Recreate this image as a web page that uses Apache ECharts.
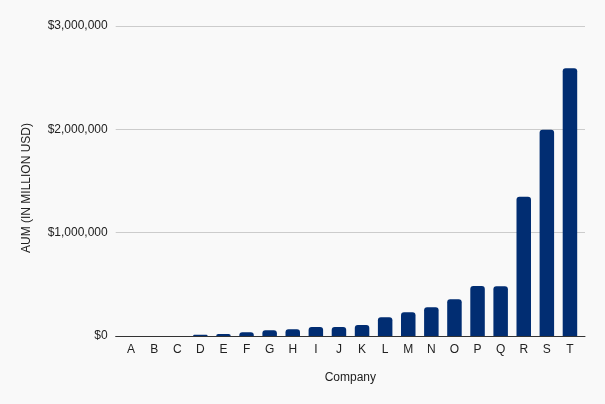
<!DOCTYPE html>
<html>
<head>
<meta charset="utf-8">
<script src="https://cdn.jsdelivr.net/npm/echarts@6/dist/echarts.min.js"></script>
<style>
html,body{margin:0;padding:0;background:#f9f9f9;}
#c{width:605px;height:404px;}
</style>
</head>
<body>
<div id="c"></div>
<script>
var categories = ['A','B','C','D','E','F','G','H','I','J','K','L','M','N','O','P','Q','R','S','T'];
var aum = [500, 800, 1200, 12000, 20000, 37000, 56000, 66000, 86000, 86000, 106000, 181000, 229000, 278000, 356000, 484000, 482000, 1348000, 1995000, 2590000];
var yTicks = [0, 1000000, 2000000, 3000000];

function fmt(v){ return '$' + v.toString().replace(/\B(?=(\d{3})+(?!\d))/g, ','); }

var chart = echarts.init(document.getElementById('c'));
var font = 'Liberation Sans, Arial, sans-serif';
chart.setOption({
  backgroundColor: '#f9f9f9',
  animation: false,
  grid: [
    {left: 115.7, top: 26, width: 469.3, height: 310},
    {left: 119.5, top: 26, width: 462, height: 310}
  ],
  xAxis: [
    {gridIndex: 0, type: 'category', data: categories,
     axisLine: {show: true, lineStyle: {color: '#333', width: 1}},
     axisTick: {show: false}, axisLabel: {show: false}, splitLine: {show: false},
     name: 'Company', nameLocation: 'middle', nameGap: 36,
     nameTextStyle: {color: '#222', fontSize: 12, fontFamily: font}},
    {gridIndex: 1, type: 'category', data: categories,
     axisLine: {show: false}, axisTick: {show: false},
     axisLabel: {color: '#222', fontSize: 12, fontFamily: font, margin: 8}}
  ],
  yAxis: [
    {gridIndex: 0, type: 'value', min: yTicks[0], max: yTicks[yTicks.length-1], interval: 1000000,
     axisLine: {show: false}, axisTick: {show: false},
     axisLabel: {color: '#222', fontSize: 12, fontFamily: font, margin: 8, formatter: fmt},
     splitLine: {lineStyle: {color: '#cccccc', width: 1}},
     name: 'AUM (IN MILLION USD)', nameLocation: 'middle', nameGap: 83,
     nameTextStyle: {color: '#222', fontSize: 12, fontFamily: font, padding: [0, 14, 0, 0]}},
    {gridIndex: 1, type: 'value', min: yTicks[0], max: yTicks[yTicks.length-1], show: false}
  ],
  series: [{
    type: 'bar', xAxisIndex: 1, yAxisIndex: 1, data: aum,
    barWidth: 14.5,
    itemStyle: {color: '#012d72', borderRadius: [3,3,0,0]}
  }]
});
</script>
</body>
</html>
